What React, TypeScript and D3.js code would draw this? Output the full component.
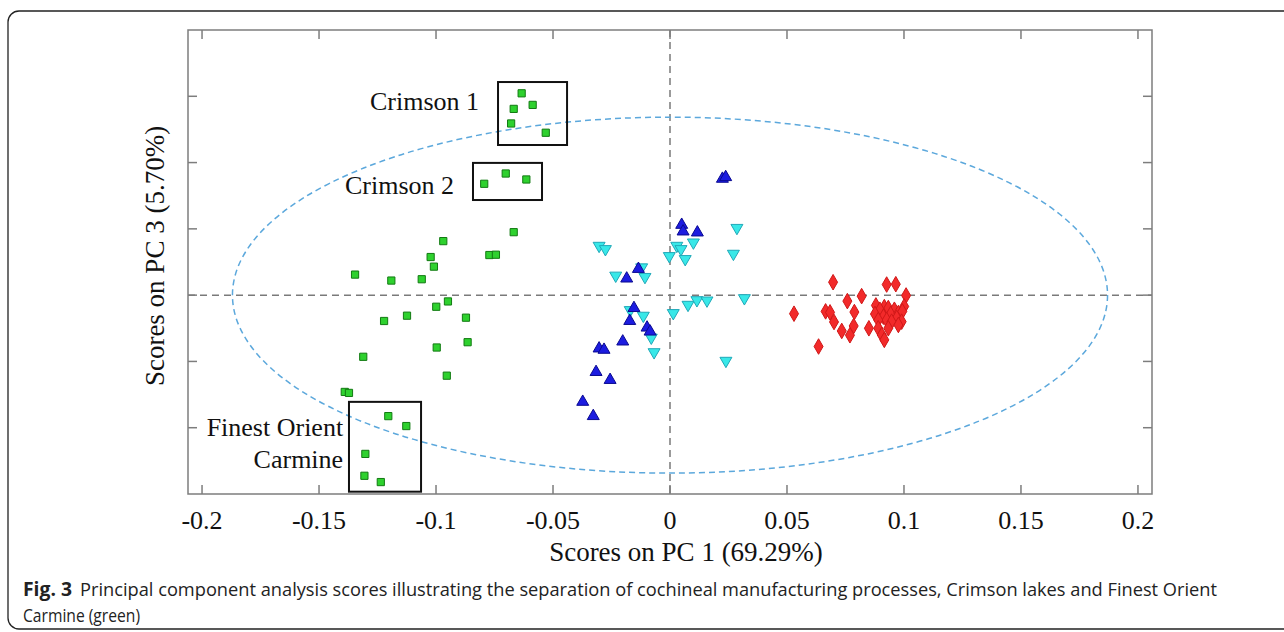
import React, { useRef, useEffect } from 'react';
import * as d3 from 'd3';

// PC1 / PC3 scores
const GREEN = [
  [-0.0634, 0.0609], [-0.0587, 0.0574], [-0.0668, 0.0562], [-0.0679, 0.0518], [-0.0531, 0.0490],
  [-0.0794, 0.0336], [-0.0702, 0.0367], [-0.0614, 0.0349],
  [-0.1204, -0.0365], [-0.1127, -0.0395], [-0.1302, -0.0479], [-0.1306, -0.0545], [-0.1236, -0.0564],
  [-0.0668, 0.0190], [-0.0969, 0.0163], [-0.0772, 0.0121], [-0.0744, 0.0122], [-0.1023, 0.0115],
  [-0.1009, 0.0086], [-0.1346, 0.0062], [-0.1191, 0.0044], [-0.1061, 0.0048], [-0.0949, -0.0019],
  [-0.0999, -0.0035], [-0.1124, -0.0062], [-0.1222, -0.0078], [-0.0872, -0.0068], [-0.0997, -0.0158],
  [-0.0865, -0.0142], [-0.1311, -0.0186], [-0.0954, -0.0243], [-0.1390, -0.0292], [-0.1372, -0.0295],
];
const BLUE = [
  [0.0224, 0.0351], [0.0238, 0.0356], [0.0050, 0.0212], [0.0056, 0.0192], [0.0117, 0.0189],
  [-0.0135, 0.0079], [-0.0185, 0.0050], [-0.0154, -0.0039], [-0.0172, -0.0078], [-0.0098, -0.0098],
  [-0.0085, -0.0110], [-0.0202, -0.0140], [-0.0303, -0.0161], [-0.0282, -0.0165], [-0.0316, -0.0232],
  [-0.0256, -0.0256], [-0.0373, -0.0322], [-0.0328, -0.0365],
];
const CYAN = [
  [-0.0303, 0.0149], [-0.0276, 0.0139], [0.0286, 0.0203], [0.0100, 0.0159], [0.0029, 0.0149],
  [0.0047, 0.0139], [-0.0003, 0.0118], [0.0065, 0.0109], [0.0271, 0.0125], [-0.0121, 0.0084],
  [-0.0232, 0.0059], [-0.0107, 0.0055], [-0.0170, -0.0045], [-0.0114, -0.0062], [-0.0080, -0.0128],
  [-0.0068, -0.0172], [0.0014, -0.0054], [0.0077, -0.0029], [0.0115, -0.0015], [0.0158, -0.0016],
  [0.0318, -0.0009], [0.0239, -0.0198],
];
const RED = [
  [0.0530, -0.0056], [0.0635, -0.0155], [0.0697, 0.0039], [0.0665, -0.0049], [0.0684, -0.0052],
  [0.0701, -0.0081], [0.0734, -0.0108], [0.0758, -0.0018], [0.0819, -0.0003], [0.0788, -0.0051],
  [0.0785, -0.0093], [0.0769, -0.0121], [0.0850, -0.0100], [0.0880, -0.0031], [0.0926, 0.0032],
  [0.0965, 0.0033], [0.1009, -0.0001], [0.1001, -0.0034], [0.0916, -0.0036], [0.0933, -0.0039],
  [0.0897, -0.0044], [0.0959, -0.0044], [0.0876, -0.0057], [0.0943, -0.0057], [0.0976, -0.0054],
  [0.0993, -0.0049], [0.0912, -0.0065], [0.0969, -0.0069], [0.0926, -0.0075], [0.0890, -0.0075],
  [0.0990, -0.0080], [0.0947, -0.0080], [0.0976, -0.0090], [0.0890, -0.0100], [0.0933, -0.0100],
  [0.0905, -0.0120], [0.0916, -0.0135],
];

const X_TICKS = [-0.2, -0.15, -0.1, -0.05, 0, 0.05, 0.1, 0.15, 0.2];
const X_TICK_LABELS = ['-0.2', '-0.15', '-0.1', '-0.05', '0', '0.05', '0.1', '0.15', '0.2'];
const Y_TICKS = [-0.04, -0.02, 0, 0.02, 0.04, 0.06];
const ELLIPSE_RADII = [0.187, 0.0537];

// boxes [x0, y0, x1, y1] and label lines [text, xEnd, yBaseline]
const BOXES = [
  [-0.0735, 0.0643, -0.0440, 0.0453],
  [-0.0842, 0.0399, -0.0547, 0.0287],
  [-0.1372, -0.0322, -0.1064, -0.0593],
];
const BOX_LABELS: [string, number, number][] = [
  ['Crimson 1', -0.0816, 0.0559],
  ['Crimson 2', -0.0923, 0.0305],
  ['Finest Orient', -0.1397, -0.0424],
  ['Carmine', -0.1397, -0.0523],
];

export default function App() {
  const svgRef = useRef<SVGSVGElement>(null);

  useEffect(() => {
    if (!svgRef.current) return;
    const svg = d3.select(svgRef.current);
    svg.selectAll('*').remove();
    const left = 188, right = 1152, top = 30, bottom = 494;
    const x = d3.scaleLinear().domain([-0.206, 0.206]).range([left, right]);
    const y = d3.scaleLinear().domain([-0.06, 0.08]).range([bottom, top]);
    const serif = '"Liberation Serif", "Times New Roman", serif';
    const sans = '"Open Sans", "Noto Sans", sans-serif';

    // outer figure border
    svg.append('rect').attr('x', 8).attr('y', 11).attr('width', 1300).attr('height', 618).attr('rx', 11)
      .attr('fill', 'none').attr('stroke', '#222').attr('stroke-width', 1.3);

    const defs = svg.append('defs');
    defs.append('clipPath').attr('id', 'plotClip').append('rect')
      .attr('x', left).attr('y', top).attr('width', right - left).attr('height', bottom - top);
    const g = svg.append('g').attr('clip-path', 'url(#plotClip)');

    // zero lines
    g.append('line').attr('x1', x(0)).attr('x2', x(0)).attr('y1', top).attr('y2', bottom)
      .attr('stroke', '#7a7a7a').attr('stroke-width', 1.5).attr('stroke-dasharray', '7,5');
    g.append('line').attr('x1', left).attr('x2', right).attr('y1', y(0)).attr('y2', y(0))
      .attr('stroke', '#7a7a7a').attr('stroke-width', 1.5).attr('stroke-dasharray', '7,5');

    // confidence ellipse
    g.append('ellipse').attr('cx', x(0)).attr('cy', y(0))
      .attr('rx', x(ELLIPSE_RADII[0]) - x(0)).attr('ry', y(0) - y(ELLIPSE_RADII[1]))
      .attr('fill', 'none').attr('stroke', '#5ca8dc').attr('stroke-width', 1.5).attr('stroke-dasharray', '6,4');

    const drawSeries = (data: number[][], type: d3.SymbolType, size: number, fill: string, stroke: string, rot = 0) => {
      const sym = d3.symbol().type(type).size(size);
      g.selectAll(null).data(data).enter().append('path')
        .attr('d', sym as any)
        .attr('transform', d => `translate(${x(d[0])},${y(d[1])}) rotate(${rot})`)
        .attr('fill', fill).attr('stroke', stroke).attr('stroke-width', 1);
    };
    drawSeries(RED, d3.symbolDiamond, 70, '#f22a2a', '#d01818');
    drawSeries(CYAN, d3.symbolTriangle, 62, '#38e8e8', '#20a8b8', 180);
    drawSeries(BLUE, d3.symbolTriangle, 62, '#1c1ce0', '#0a0a90');
    drawSeries(GREEN, d3.symbolSquare, 52, '#2ed12e', '#127a12');

    // annotation boxes
    BOXES.forEach(b => {
      g.append('rect').attr('x', x(b[0])).attr('y', y(b[1]))
        .attr('width', x(b[2]) - x(b[0])).attr('height', y(b[3]) - y(b[1]))
        .attr('fill', 'none').attr('stroke', '#111').attr('stroke-width', 2);
    });
    BOX_LABELS.forEach(([t, lx, ly]) => {
      svg.append('text').attr('x', x(lx)).attr('y', y(ly)).attr('text-anchor', 'end')
        .attr('font-family', serif).attr('font-size', 26).attr('fill', '#111').text(t);
    });

    // frame and ticks
    svg.append('rect').attr('x', left).attr('y', top).attr('width', right - left).attr('height', bottom - top)
      .attr('fill', 'none').attr('stroke', '#7d7d7d').attr('stroke-width', 1.5);
    const tl = 9;
    X_TICKS.forEach((t, i) => {
      svg.append('line').attr('x1', x(t)).attr('x2', x(t)).attr('y1', bottom).attr('y2', bottom - tl)
        .attr('stroke', '#7d7d7d').attr('stroke-width', 1.5);
      svg.append('line').attr('x1', x(t)).attr('x2', x(t)).attr('y1', top).attr('y2', top + tl)
        .attr('stroke', '#7d7d7d').attr('stroke-width', 1.5);
      svg.append('text').attr('x', x(t)).attr('y', 529).attr('text-anchor', 'middle')
        .attr('font-family', serif).attr('font-size', 26).attr('fill', '#111').text(X_TICK_LABELS[i]);
    });
    Y_TICKS.forEach(t => {
      svg.append('line').attr('x1', left).attr('x2', left + tl).attr('y1', y(t)).attr('y2', y(t))
        .attr('stroke', '#7d7d7d').attr('stroke-width', 1.5);
      svg.append('line').attr('x1', right).attr('x2', right - tl).attr('y1', y(t)).attr('y2', y(t))
        .attr('stroke', '#7d7d7d').attr('stroke-width', 1.5);
    });

    svg.append('text').attr('x', 686).attr('y', 561).attr('text-anchor', 'middle')
      .attr('font-family', serif).attr('font-size', 27).attr('fill', '#111').text('Scores on PC 1 (69.29%)');
    svg.append('text').attr('transform', 'translate(164,256) rotate(-90)').attr('text-anchor', 'middle')
      .attr('font-family', serif).attr('font-size', 27).attr('fill', '#111').text('Scores on PC 3 (5.70%)');

    // caption
    svg.append('text').attr('x', 23).attr('y', 596).attr('font-family', sans).attr('font-size', 19)
      .attr('font-weight', 'bold').attr('fill', '#222').attr('textLength', 49).attr('lengthAdjust', 'spacingAndGlyphs')
      .text('Fig. 3');
    svg.append('text').attr('x', 80).attr('y', 596).attr('font-family', sans).attr('font-size', 18.5)
      .attr('fill', '#222').attr('textLength', 1137).attr('lengthAdjust', 'spacingAndGlyphs')
      .text('Principal component analysis scores illustrating the separation of cochineal manufacturing processes, Crimson lakes and Finest Orient');
    svg.append('text').attr('x', 23).attr('y', 622).attr('font-family', sans).attr('font-size', 18.5)
      .attr('fill', '#222').attr('textLength', 117).attr('lengthAdjust', 'spacingAndGlyphs')
      .text('Carmine (green)');
  }, []);

  return (
    <svg ref={svgRef} width={1284} height={632} style={{ position: 'absolute', left: 0, top: 0, background: '#fff' }} />
  );
}
